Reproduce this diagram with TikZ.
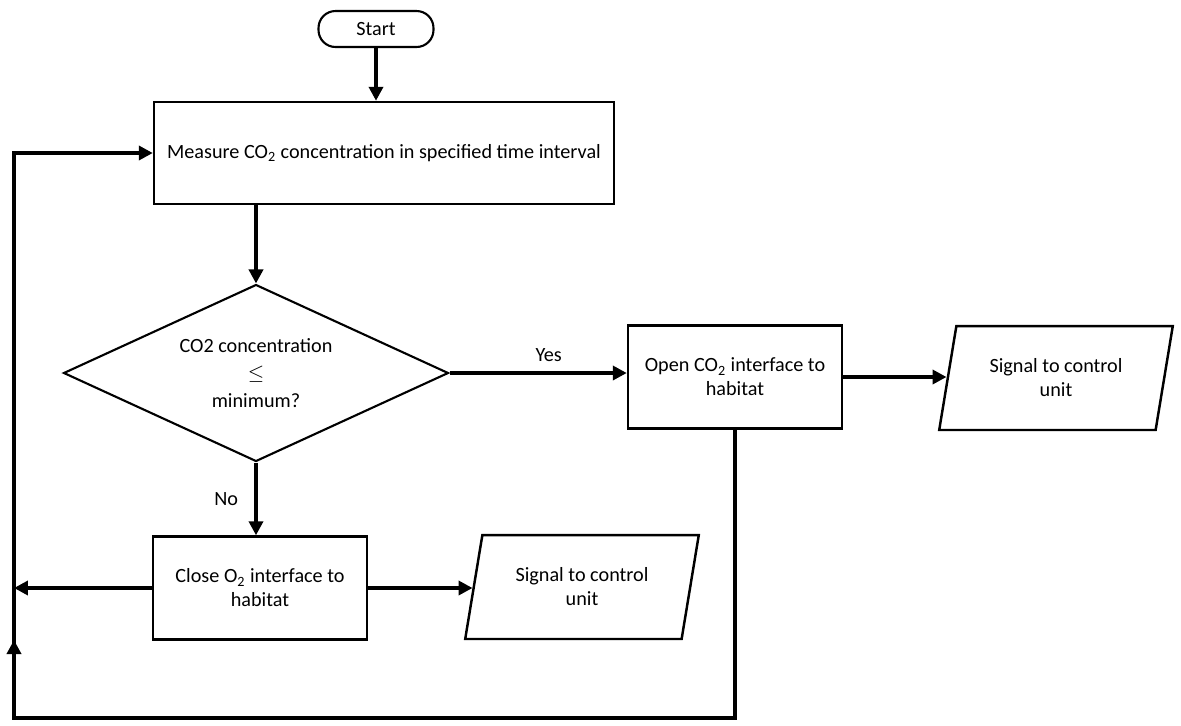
\documentclass[tikz,border=0pt]{standalone}
\usepackage{fontspec}
\setmainfont{Carlito}
\usetikzlibrary{shapes.geometric,arrows.meta}

\begin{document}
\begin{tikzpicture}[x=0.02cm,y=-0.02cm,
		txt/.style={font=\fontsize{11.5}{13.7}\selectfont,align=center},
		term/.style={draw,line width=1.2pt,rounded corners=0.34cm,minimum width=2.3cm,minimum height=0.72cm,txt},
		box/.style={draw,line width=1.4pt,minimum width=4.28cm,minimum height=2.06cm,txt},
		decision/.style={diamond,draw,line width=1.2pt,aspect=2.2,inner sep=0pt,minimum width=7.7cm,minimum height=3.54cm,txt},
		io/.style={trapezium,trapezium left angle=76,trapezium right angle=104,trapezium stretches=true,draw,line width=1.4pt,minimum width=4.7cm,minimum height=2.08cm,txt},
		flow/.style={line width=2.4pt,-{Triangle[length=0.28cm,width=0.28cm]}},
		lbl/.style={font=\fontsize{11.5}{13.7}\selectfont}]
	\useasboundingbox (0,0) rectangle (1181,725);
	
	\node[term] (start) at (376,29) {Start};
	\node[box,minimum width=9.2cm,minimum height=2.04cm] (measure) at (384,153) {Measure CO\textsubscript{2} concentration in specified time interval};
	\node[decision] (check) at (256,373) {CO2 concentration\\[2pt]\(\leq\)\\[2pt]minimum?};
	\node[box] (open) at (735,377) {Open CO\textsubscript{2} interface to\\habitat};
	\node[box] (close) at (260,588) {Close O\textsubscript{2} interface to\\habitat};
	\node[io] (sigopen) at (1056,378) {Signal to control\\unit};
	\node[io] (sigclose) at (582,587) {Signal to control\\unit};
	
	% loop back to the measurement
	\coordinate (lb) at (14,718);
	\coordinate (lt) at (14,153);
	\coordinate (up) at (14,640);
	
	\draw[flow] (start) -- (start |- measure.north);
	\draw[flow] (check.north |- measure.south) -- (check.north);
	\draw[flow] (check.east) --node[lbl,above=2pt,xshift=6pt]{Yes} (check.east -| open.west);
	\draw[flow] (check.south) --node[lbl,left=0.2cm]{No} (check.south |- close.north);
	\draw[flow] (open.east) -- (open.east -| sigopen.west);
	\draw[flow] (close.east) -- (close.east -| sigclose.west);
	\draw[flow] (close.west) -- (close.west -| lt);
	\draw[flow] (open.south) |- (lb) -- (lt) -- (measure.west);
	\draw[flow] (lb) -- (up);
\end{tikzpicture}
\end{document}
